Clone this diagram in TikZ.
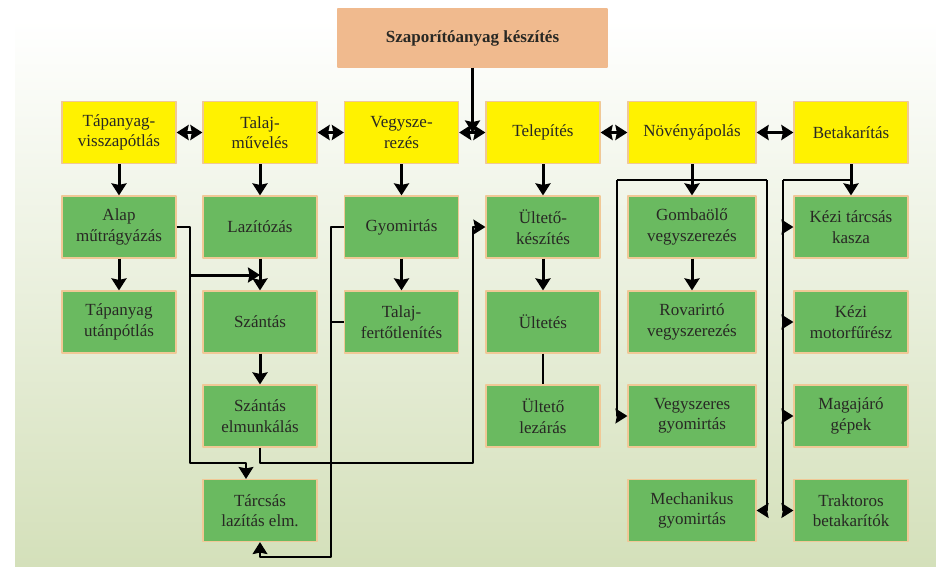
\documentclass[tikz,border=0pt]{standalone}
\usepackage{fontspec}
\setmainfont{Liberation Serif}
\usetikzlibrary{arrows.meta}
\definecolor{hatter}{RGB}{212,224,186}
\definecolor{hatterkozep}{RGB}{236,240,226}
\definecolor{cimszin}{RGB}{240,186,142}
\definecolor{sargaszin}{RGB}{255,242,0}
\definecolor{zoldszin}{RGB}{106,186,96}
\definecolor{keret}{RGB}{240,200,150}
\definecolor{szoveg}{RGB}{40,40,36}
\begin{document}
\begin{tikzpicture}[x=1pt,y=-1pt,line join=round,>={Stealth[length=12pt,width=15pt,inset=1.5pt]},font=\fontsize{17}{20.5}\selectfont,
	doboz/.style={draw=keret,line width=1.2pt,minimum width=114pt,minimum height=62pt,align=center,text=szoveg,inner sep=2pt},
	sarga/.style={doboz,fill=sargaszin},
	zold/.style={doboz,fill=zoldszin},
	vastag/.style={line width=3pt},
	vekony/.style={line width=1.3pt}]
	\def\ya{132.5} \def\yb{227} \def\yc{322} \def\yd{416} \def\ye{510.5} % sorok
	\useasboundingbox (0,0) rectangle (936,566);
	\shade[top color=white,middle color=hatterkozep,bottom color=hatter] (15,20) rectangle (936,566);
	% cim
	\node[doboz,fill=cimszin,draw=cimszin,minimum width=269pt,minimum height=58pt,font=\fontsize{17}{20.5}\selectfont\bfseries] (cim) at (472.5,38) {Szaporítóanyag készítés};
	% fo lepesek
	\node[sarga] (tapanyag) at (119,\ya) {Tápanyag-\\visszapótlás};
	\node[sarga] (talaj) at (260,\ya) {Talaj-\\művelés};
	\node[sarga] (vegysz) at (401.5,\ya) {Vegysze-\\rezés};
	\node[sarga] (telep) at (543,\ya) {Telepítés};
	\node[sarga,minimum width=128pt] (noveny) at (692,\ya) {Növényápolás};
	\node[sarga] (betak) at (851,\ya) {Betakarítás};
	% muveletek
	\node[zold] (alap) at (119,\yb) {Alap\\műtrágyázás};
	\node[zold] (tputan) at (119,\yc) {Tápanyag\\utánpótlás};
	\node[zold] (lazito) at (260,\yb) {Lazítózás};
	\node[zold] (szantas) at (260,\yc) {Szántás};
	\node[zold] (szelm) at (260,\yd) {Szántás\\elmunkálás};
	\node[zold] (tarcsas) at (260,\ye) {Tárcsás\\lazítás elm.};
	\node[zold] (gyom) at (401.5,\yb) {Gyomirtás};
	\node[zold] (talajf) at (401.5,\yc) {Talaj-\\fertőtlenítés};
	\node[zold] (ultkesz) at (543,\yb) {Ültető-\\készítés};
	\node[zold] (ultetes) at (543,\yc) {Ültetés};
	\node[zold] (ultlez) at (543,\yd) {Ültető\\lezárás};
	\node[zold,minimum width=128pt] (gomba) at (692,\yb) {Gombaölő\\vegyszerezés};
	\node[zold,minimum width=128pt] (rovar) at (692,\yc) {Rovarirtó\\vegyszerezés};
	\node[zold,minimum width=128pt] (vgyom) at (692,\yd) {Vegyszeres\\gyomirtás};
	\node[zold,minimum width=128pt] (mgyom) at (692,\ye) {Mechanikus\\gyomirtás};
	\node[zold] (kasza) at (851,\yb) {Kézi tárcsás\\kasza};
	\node[zold] (motor) at (851,\yc) {Kézi\\motorfűrész};
	\node[zold] (maga) at (851,\yd) {Magajáró\\gépek};
	\node[zold] (traktor) at (851,\ye) {Traktoros\\betakarítók};
	% vastag nyilak
	\draw[vastag,->] (cim.south) -- (cim.south |- vegysz.east);
	\foreach \a/\b in {tapanyag/talaj,talaj/vegysz,vegysz/telep,telep/noveny,noveny/betak}
		\draw[vastag,<->] (\a) -- (\b);
	\foreach \a/\b in {tapanyag/alap,alap/tputan,talaj/lazito,lazito/szantas,szantas/szelm,vegysz/gyom,gyom/talajf,telep/ultkesz,ultkesz/ultetes,noveny/gomba,gomba/rovar,betak/kasza}
		\draw[vastag,->] (\a) -- (\b);
	\draw[vekony] (ultetes) -- (ultlez);
	% vekony vonalak
	\coordinate (k1) at (190,463);
	\draw[vekony,->] (alap.east) -| (k1) -| ([xshift=-14pt]tarcsas.north);
	\draw[vastag,->] (190,275) -- (lazito.south |- 0,275);
	\coordinate (k2) at (331,557);
	\draw[vekony,->] (gyom.west) -| (k2) -| (tarcsas.south);
	\draw[vekony] (talajf.west) -- (talajf.west -| k2);
	\coordinate (k3) at (473,463);
	\draw[vekony,->] (szelm.south) |- (k3) |- (ultkesz.west);
	% novenyapolas
	\coordinate (n1) at (617,180); \coordinate (n2) at (767,180);
	\draw[vekony] (n1) -- (n2);
	\draw[vekony,->] (n1) |- (vgyom.west);
	\draw[vekony,->] (n2) |- (mgyom.east);
	% betakaritas
	\coordinate (b1) at (783,180);
	\draw[vekony] (b1) -- (b1 -| betak.south);
	\foreach \c in {kasza,motor,maga,traktor}
		\draw[vekony,->] (b1) |- (\c.west);
\end{tikzpicture}
\end{document}
